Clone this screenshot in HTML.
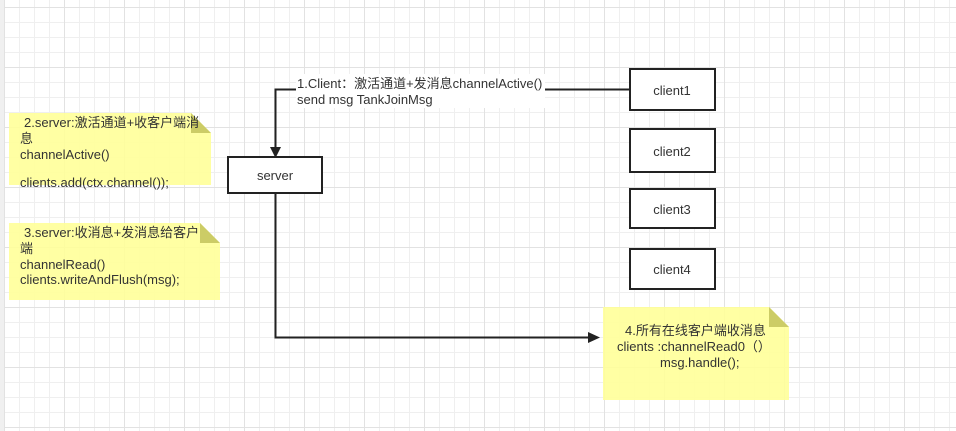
<!DOCTYPE html>
<html><head><meta charset="utf-8"><style>
html,body{margin:0;padding:0;background:#fff}
svg{display:block}
text{font-family:"Liberation Sans","Noto Sans CJK SC",sans-serif;font-size:13px;fill:#333}
</style></head><body>
<svg width="956" height="431" viewBox="0 0 956 431" xmlns="http://www.w3.org/2000/svg">
<defs>
<pattern id="g" x="4" y="7" width="60" height="60" patternUnits="userSpaceOnUse">
<path d="M15.5 0V60M30.5 0V60M45.5 0V60M0 15.5H60M0 30.5H60M0 45.5H60" stroke="#efefef" stroke-width="1"/>
<path d="M0.5 0V60M0 0.5H60" stroke="#e2e2e2" stroke-width="1"/>
</pattern>
</defs>
<rect width="956" height="431" fill="url(#g)"/>
<rect x="0" y="0" width="4" height="431" fill="#f0f0f0"/>

<!-- notes -->
<path d="M9 113H191L211 133V185H9Z" fill="#ffff99" opacity=".9"/>
<path d="M191 113L211 133H191Z" fill="#cccc66"/>
<path d="M9 223H200L220 243V300H9Z" fill="#ffff99" opacity=".9"/>
<path d="M200 223L220 243H200Z" fill="#cccc66"/>
<path d="M603 307H769L789 327V400H603Z" fill="#ffff99" opacity=".9"/>
<path d="M769 307L789 327H769Z" fill="#cccc66"/>

<text x="24" y="127">2.server:激活通道+收客户端消</text>
<text x="20" y="143">息</text>
<text x="20" y="159">channelActive()</text>
<text x="20" y="187">clients.add(ctx.channel());</text>

<text x="24" y="237">3.server:收消息+发消息给客户</text>
<text x="20" y="253">端</text>
<text x="20" y="269">channelRead()</text>
<text x="20" y="284">clients.writeAndFlush(msg);</text>

<text x="625" y="335">4.所有在线客户端收消息</text>
<text x="617" y="351">clients :channelRead0（）</text>
<text x="660" y="367">msg.handle();</text>

<!-- connectors -->
<path d="M630 89.5H545M296 89.5H275.5V152" fill="none" stroke="#222" stroke-width="2"/>
<path d="M270 147L275.5 158L281 147Z" fill="#222"/>
<rect x="296" y="74" width="249" height="34" fill="#fff"/>
<text x="297" y="88">1.Client：激活通道+发消息channelActive()</text>
<text x="297" y="104">send msg TankJoinMsg</text>

<path d="M275.5 193V337.5H592" fill="none" stroke="#222" stroke-width="2"/>
<path d="M588 332L600 337.5L588 343Z" fill="#222"/>

<!-- boxes -->
<g fill="#fff" stroke="#222" stroke-width="2">
<rect x="228" y="157" width="94" height="36"/>
<rect x="630" y="69" width="85" height="41"/>
<rect x="630" y="129" width="85" height="43"/>
<rect x="630" y="189" width="85" height="39"/>
<rect x="630" y="249" width="85" height="40"/>
</g>
<g text-anchor="middle">
<text x="275" y="180">server</text>
<text x="672" y="95">client1</text>
<text x="672" y="156">client2</text>
<text x="672" y="214">client3</text>
<text x="672" y="274">client4</text>
</g>
</svg>
</body></html>
